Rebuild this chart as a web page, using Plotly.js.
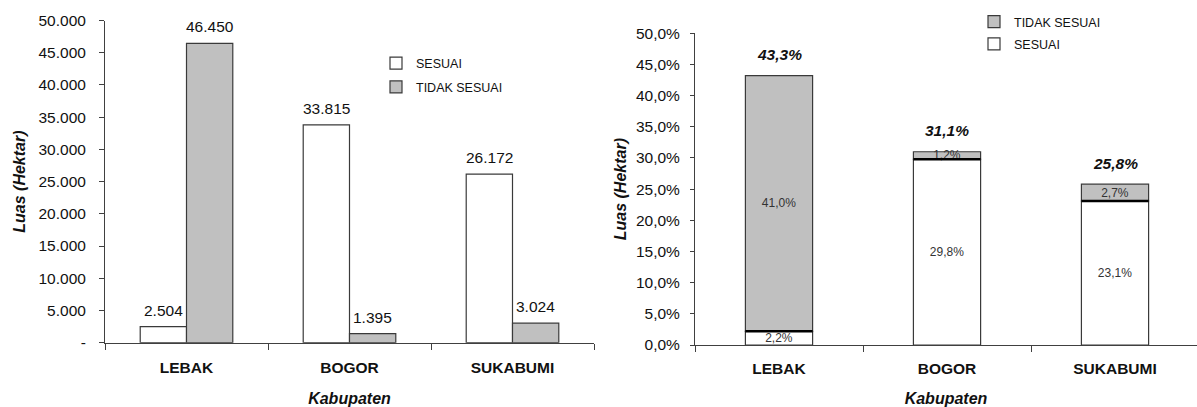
<!DOCTYPE html>
<html><head><meta charset="utf-8">
<script src="https://cdn.plot.ly/plotly-3.0.1.min.js"></script>
<style>html,body{margin:0;padding:0;background:#fff}#chart{width:1197px;height:407px}</style>
</head><body><div id="chart"></div>
<script>
// ---- data ----
const categories = ['LEBAK', 'BOGOR', 'SUKABUMI'];
const areaSesuai = [2504, 33815, 26172];
const areaTidakSesuai = [46450, 1395, 3024];
const pctSesuai = [2.2, 29.8, 23.1];
const pctTidakSesuai = [41.0, 1.2, 2.7];
const pctTotal = [43.3, 31.1, 25.8];
const areaTickVals = [0, 5000, 10000, 15000, 20000, 25000, 30000, 35000, 40000, 45000, 50000];
const areaTickText = ['-', '5.000', '10.000', '15.000', '20.000', '25.000', '30.000', '35.000', '40.000', '45.000', '50.000'];
const seriesNames = ['SESUAI', 'TIDAK SESUAI'];

// ---- styles ----
const FONT = 'Liberation Sans, Arial, sans-serif';
const GRAY = '#c0c0c0';
const EDGE = '#3a3a3a';
const AXIS = '#404040';
const TXT = '#111';
const leftW = 0.284, rightW = 0.4;

function fmtArea(v) { return v.toLocaleString('de-DE'); }
function fmtPct(v) { return v.toFixed(1).replace('.', ',') + '%'; }

const traces = [
  { type: 'bar', x: categories, y: areaSesuai, name: seriesNames[0], xaxis: 'x', yaxis: 'y',
    width: leftW, offset: -leftW, marker: { color: '#ffffff', line: { color: EDGE, width: 1.2 } },
    legend: 'legend', legendgroup: 'a', legendrank: 1, hoverinfo: 'skip' },
  { type: 'bar', x: categories, y: areaTidakSesuai, name: seriesNames[1], xaxis: 'x', yaxis: 'y',
    width: leftW, offset: 0, marker: { color: GRAY, line: { color: EDGE, width: 1.2 } },
    legend: 'legend', legendgroup: 'b', legendrank: 2, hoverinfo: 'skip' },
  { type: 'bar', x: categories, y: pctSesuai, name: seriesNames[0], xaxis: 'x2', yaxis: 'y2',
    width: rightW, marker: { color: '#ffffff', line: { color: EDGE, width: 1.2 } },
    texttemplate: '%{y:.1f}%', textposition: 'inside', insidetextanchor: 'middle', textangle: 0,
    constraintext: 'none', insidetextfont: { family: FONT, size: 12, color: '#333' },
    legend: 'legend2', legendgroup: 'c', legendrank: 2, hoverinfo: 'skip' },
  { type: 'bar', x: categories, y: pctTidakSesuai, base: pctSesuai, name: seriesNames[1], xaxis: 'x2', yaxis: 'y2',
    width: rightW, marker: { color: GRAY, line: { color: EDGE, width: 1.2 } },
    texttemplate: '%{y:.1f}%', textposition: 'inside', insidetextanchor: 'middle', textangle: 0,
    constraintext: 'none', insidetextfont: { family: FONT, size: 12, color: '#333' },
    legend: 'legend2', legendgroup: 'd', legendrank: 1, hoverinfo: 'skip' },
  { type: 'scatter', mode: 'markers', x: categories, y: pctSesuai, xaxis: 'x2', yaxis: 'y2',
    marker: { symbol: 'line-ew', size: 48, color: '#000', line: { color: '#000', width: 2.6 } },
    showlegend: false, hoverinfo: 'skip', cliponaxis: false }
];

const annotations = [];
categories.forEach((c, i) => {
  annotations.push({ x: c, y: areaSesuai[i], xref: 'x', yref: 'y', text: fmtArea(areaSesuai[i]),
    showarrow: false, xshift: -23.2, yshift: 16.5, yanchor: 'middle',
    font: { family: FONT, size: 15.5, color: TXT } });
  annotations.push({ x: c, y: areaTidakSesuai[i], xref: 'x', yref: 'y', text: fmtArea(areaTidakSesuai[i]),
    showarrow: false, xshift: 23.2, yshift: 16.5, yanchor: 'middle',
    font: { family: FONT, size: 15.5, color: TXT } });
  annotations.push({ x: c, y: pctTotal[i], xref: 'x2', yref: 'y2', text: fmtPct(pctTotal[i]),
    showarrow: false, yshift: 20.5, yanchor: 'middle',
    font: { family: FONT, size: 15.5, color: TXT, weight: 'bold', style: 'italic' } });
});

const axisCommon = {
  showline: true, linecolor: AXIS, linewidth: 1, ticks: 'outside', tickcolor: AXIS, tickwidth: 1,
  showgrid: false, zeroline: false, fixedrange: true
};
const catFont = { family: FONT, size: 15.5, color: TXT, weight: 'bold' };
const titleFont = { family: FONT, size: 16, color: TXT, weight: 'bold', style: 'italic' };

const layout = {
  width: 1197, height: 407,
  margin: { l: 0, r: 0, t: 0, b: 0 },
  paper_bgcolor: '#fff', plot_bgcolor: '#fff',
  separators: ',.',
  barmode: 'overlay',
  hovermode: false,
  font: { family: FONT, color: TXT },
  xaxis: Object.assign({}, axisCommon, {
    domain: [105 / 1197, 594 / 1197], type: 'category', range: [-0.5, 2.5],
    tickson: 'boundaries', ticklen: 6, ticklabelstandoff: 11, tickfont: catFont,
    title: { text: 'Kabupaten', font: titleFont, standoff: 17 }, anchor: 'y'
  }),
  yaxis: Object.assign({}, axisCommon, {
    domain: [(407 - 342.7) / 407, (407 - 20.5) / 407], range: [0, 50000],
    tickvals: areaTickVals, ticktext: areaTickText, ticklen: 5, ticklabelstandoff: 10,
    tickfont: { family: FONT, size: 15.5, color: TXT },
    title: { text: 'Luas (Hektar)', font: titleFont, standoff: 8 }, anchor: 'x'
  }),
  xaxis2: Object.assign({}, axisCommon, {
    domain: [695 / 1197, 1], type: 'category', range: [-0.5, 2.488],
    tickson: 'boundaries', ticklen: 6, ticklabelstandoff: 9, tickfont: catFont,
    title: { text: 'Kabupaten', font: titleFont, standoff: 18 }, anchor: 'y2'
  }),
  yaxis2: Object.assign({}, axisCommon, {
    domain: [(407 - 345) / 407, (407 - 33.3) / 407], range: [0, 50],
    dtick: 5, tick0: 0, tickformat: '.1f', ticksuffix: '%', ticklen: 4, ticklabelstandoff: 7,
    tickfont: { family: FONT, size: 15.5, color: TXT },
    title: { text: 'Luas (Hektar)', font: titleFont, standoff: 5 }, anchor: 'x2'
  }),
  legend: {
    x: 376 / 1197, xanchor: 'left', y: (407 - 48.5) / 407, yanchor: 'top',
    traceorder: 'grouped', tracegroupgap: 4.5, bgcolor: 'rgba(0,0,0,0)',
    font: { family: FONT, size: 12.5, color: TXT }
  },
  legend2: {
    x: 974 / 1197, xanchor: 'left', y: (407 - 7) / 407, yanchor: 'top',
    traceorder: 'grouped', tracegroupgap: 3, bgcolor: 'rgba(0,0,0,0)',
    font: { family: FONT, size: 12.5, color: TXT }
  },
  annotations: annotations
};

Plotly.newPlot('chart', traces, layout, { displayModeBar: false, staticPlot: true });
</script>
</body></html>
